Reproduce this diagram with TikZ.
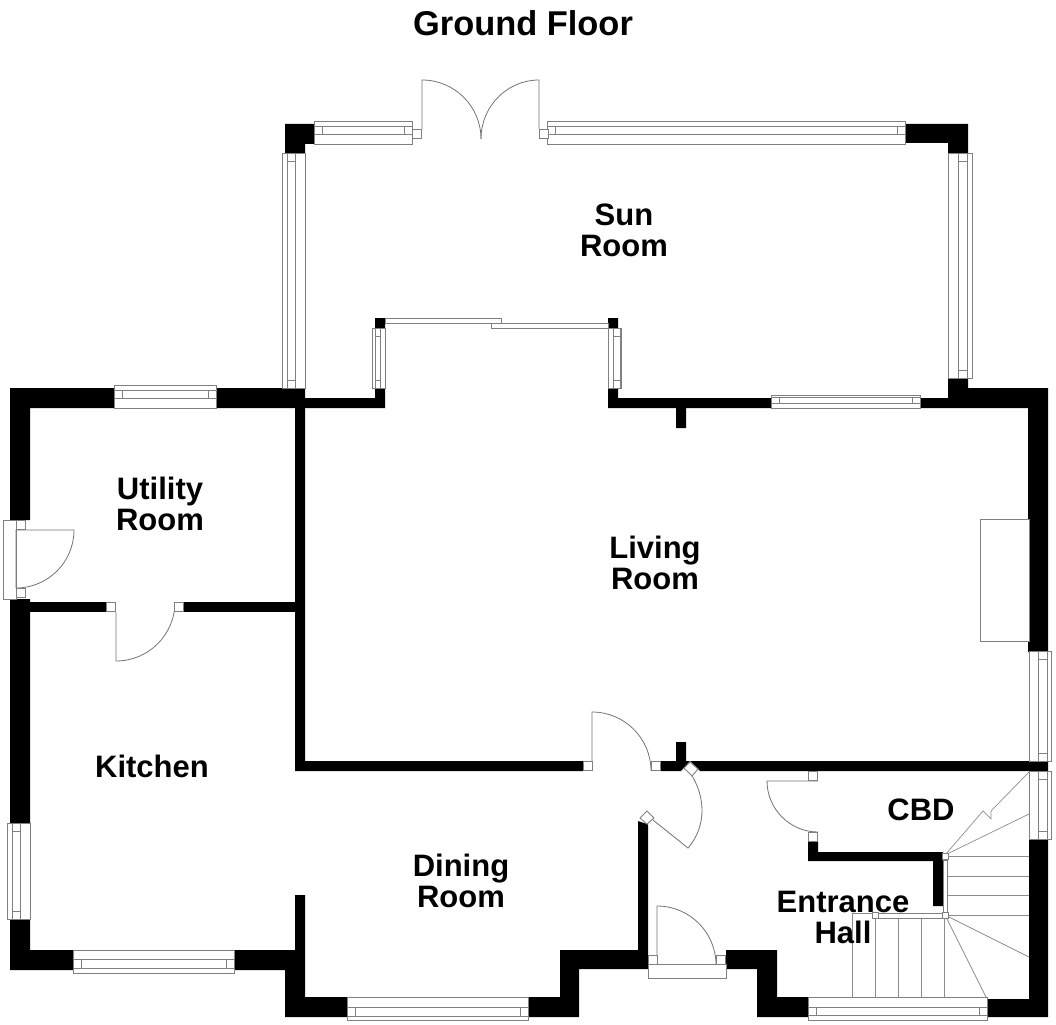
\documentclass[tikz,border=0pt]{standalone}
\usepackage{fontspec}
\setmainfont{Liberation Sans}
\tikzset{
    wall/.style={fill=black, draw=none},
    glaze/.style={draw=black!50, fill=white, line width=.9pt},
    swing/.style={draw=black!55, line width=.8pt},
    tread/.style={draw=black!45, line width=.7pt},
    room/.style={font=\fontsize{31}{31}\selectfont\bfseries, align=center, inner sep=0pt}
}
\begin{document}
\begin{tikzpicture}[x=1pt, y=-1pt]
    \useasboundingbox (0,0) rectangle (1056,1024);

    % stairs
    \foreach \ty in {856,876,895,915}
        \draw[tread] (947,\ty) -- (1029,\ty);
    \foreach \tx in {852,875,898,921,944}
        \draw[tread] (\tx,913) -- (\tx,999);
    \draw[tread] (852,913) -- (872,913);
    \draw[tread] (852,999) -- (987,999);
    \draw[tread] (945,855) -- (983,811) -- (991,819) -- (991,811) -- (1029,772);
    \draw[tread] (945,855) -- (1029,814);
    \draw[tread] (945,915) -- (1029,957);
    \draw[tread] (945,915) -- (987,999);

    % walls
    \fill[wall] (285,124) -- (314,124) -- (314,144) -- (305,144) -- (305,153) -- (285,153) -- cycle;
    \fill[wall] (906,124) -- (968,124) -- (968,153) -- (948,153) -- (948,143) -- (906,143) -- cycle;
    \fill[wall] (10,520) -- (10,388) -- (305,388) -- (305,408) -- (30,408) -- (30,520) -- cycle;
    \fill[wall] (305,398) -- (375,398) -- (375,318) -- (385,318) -- (385,408) -- (305,408) -- cycle;
    \fill[wall] (295,408) -- (305,408) -- (305,761) -- (583,761) -- (583,771) -- (295,771) -- cycle;
    \fill[wall] (608,318) -- (618,318) -- (618,398) -- (948,398) -- (948,378) -- (968,378) -- (968,388)
        -- (1048,388) -- (1048,652) -- (1028,652) -- (1028,408) -- (686,408) -- (686,428) -- (676,428)
        -- (676,408) -- (608,408) -- cycle;
    \fill[wall] (30,602) -- (106,602) -- (106,612) -- (30,612) -- cycle;
    \fill[wall] (184,602) -- (295,602) -- (295,612) -- (184,612) -- cycle;
    \fill[wall] (10,599) -- (30,599) -- (30,950) -- (295,950) -- (295,895) -- (305,895) -- (305,997)
        -- (560,997) -- (560,950) -- (638,950) -- (638,821) -- (647,824) -- (648,825) -- (648,969)
        -- (579,969) -- (579,1017) -- (285,1017) -- (285,970) -- (10,970) -- cycle;
    \fill[wall] (661,761) -- (676,761) -- (676,742) -- (686,742) -- (686,761) -- (1048,761) -- (1048,771)
        -- (700,771) -- (690,761) -- (681,771) -- (661,771) -- cycle;
    \fill[wall] (726,950) -- (777,950) -- (777,997) -- (808,997) -- (808,1017) -- (757,1017) -- (757,969)
        -- (726,969) -- cycle;
    \fill[wall] (1029,839) -- (1048,839) -- (1048,1017) -- (987,1017) -- (987,999) -- (1029,999) -- cycle;
    \fill[wall] (808,842) -- (818,842) -- (818,852) -- (943,852) -- (943,906) -- (933,906) -- (933,861)
        -- (808,861) -- cycle;

    % horizontal windows
    \foreach \xa/\xb/\ya/\yb/\ia/\ib in {314/412/121/144/126/134, 547/905/121/144/126/134,
        771/920/395/408/397/403, 114/216/385/408/390/398, 73/234/950/973/959/968,
        347/528/997/1020/1007/1016, 808/987/997/1020/1007/1015} {
        \draw[glaze] (\xa,\ya) rectangle (\xb,\yb);
        \draw[glaze] (\xa,\ia) rectangle (\xb,\ib);
        \draw[glaze] (\xa+8,\ia) -- (\xa+8,\ib);
        \draw[glaze] (\xb-8,\ia) -- (\xb-8,\ib);
    }
    % vertical windows
    \foreach \xa/\xb/\ya/\yb/\ia/\ib in {282/305/153/388/287/295, 948/972/153/378/958/967,
        372/385/328/388/375/380, 608/621/328/388/613/620, 7/30/823/919/12/20,
        1029/1051/651/761/1038/1047, 1029/1051/771/839/1038/1047} {
        \draw[glaze] (\xa,\ya) rectangle (\xb,\yb);
        \draw[glaze] (\ia,\ya) rectangle (\ib,\yb);
        \draw[glaze] (\ia,\ya+8) -- (\ib,\ya+8);
        \draw[glaze] (\ia,\yb-8) -- (\ib,\yb-8);
    }

    % sliding doors, fireplace, door frames
    \draw[glaze] (385,318) rectangle (501,323);
    \draw[glaze] (491,323) rectangle (608,328);
    \draw[glaze] (980,519) rectangle (1029,641);
    \draw[glaze] (3,520) rectangle (16,599);
    \draw[glaze] (648,964) rectangle (726,978);
    \draw[glaze] (943,860) rectangle (947,913);
    \draw[glaze] (872,913) rectangle (945,918);

    % door leaves
    \draw[swing] (422,129) -- (422,80) .. controls (454.6,80) and (481,106.4) .. (481,139);
    \draw[swing] (539,129) -- (539,80) .. controls (507,80) and (481,106.4) .. (481,139);
    \draw[swing] (16,530) -- (74,530) .. controls (74,562) and (48,588) .. (16,588) -- cycle;
    \draw[swing] (116,612) -- (116,661) .. controls (148.6,661) and (175,634.6) .. (175,602);
    \draw[swing] (592,771) -- (592,712) .. controls (624.6,712) and (651,738.4) .. (651,771);
    \draw[swing] (653,820) -- (688,848) .. controls (708,825) and (704,795) .. (692,776);
    \draw[swing] (657,965) -- (657,906) .. controls (689.6,906) and (716,932.4) .. (716,965);
    \draw[swing] (818,781) -- (767,781) .. controls (767,809) and (790,832) .. (818,832);

    % door jambs
    \foreach \jx/\jy in {412/129, 539/129, 16/520, 16/588, 106/602, 174/602, 583/761, 651/761,
        648/955, 716/955, 808/771, 808/832}
        \draw[glaze] (\jx,\jy) rectangle ++(9.5,9.5);
    \foreach \jx/\jy in {942/853, 942/912, 872/912}
        \draw[glaze] (\jx,\jy) rectangle ++(6,6);
    \draw[glaze] (690,762) -- (698,769) -- (692,776) -- (684,768) -- cycle;
    \draw[glaze] (647,811) -- (654,818) -- (647,824) -- (640,818) -- cycle;

    % labels
    \node[room, font=\fontsize{34.4}{36}\selectfont\bfseries] (title) at (523,23) {Ground Floor};
    \node[room] (sun) at (624,230) {Sun\\Room};
    \node[room] (utility) at (160,504) {Utility\\Room};
    \node[room] (living) at (655,563) {Living\\Room};
    \node[room] (kitchen) at (152,766) {Kitchen};
    \node[room] (dining) at (461,881) {Dining\\Room};
    \node[room] (cbd) at (921,810) {CBD};
    \node[room] (hall) at (843,917) {Entrance\\Hall};
\end{tikzpicture}
\end{document}
